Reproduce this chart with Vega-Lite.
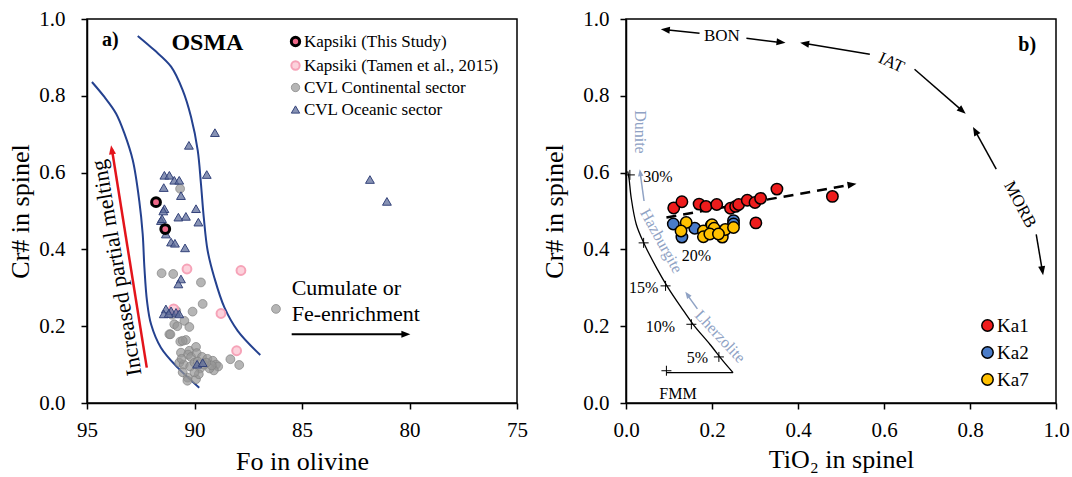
{
  "$schema": "https://vega.github.io/schema/vega-lite/v6.json",
  "background": "white",
  "padding": {"left": 7, "top": 7, "right": 5, "bottom": 0},
  "bounds": "flush",
  "spacing": 109,
  "config": {
    "font": "Liberation Serif",
    "view": {"stroke": "black", "strokeWidth": 1.5},
    "axis": {
      "domainColor": "black", "domainWidth": 1.5,
      "tickColor": "black", "tickWidth": 1.5, "tickSize": 6,
      "grid": false, "labelFlush": false, "labelOverlap": false,
      "labelFont": "Liberation Serif", "labelFontSize": 21, "labelColor": "black",
      "titleFont": "Liberation Serif", "titleFontSize": 26, "titleFontWeight": "normal", "titleColor": "black"
    },
    "legend": {"labelFont": "Liberation Serif", "labelLimit": 400},
    "text": {"font": "Liberation Serif", "color": "black"}
  },
  "resolve": {
    "scale": {"x": "independent", "y": "independent", "fill": "independent", "stroke": "independent", "shape": "independent", "strokeWidth": "independent"},
    "legend": {"fill": "independent", "stroke": "independent", "shape": "independent", "strokeWidth": "independent"}
  },
  "datasets": {
    "envelope": [
      {"curve": "left", "fo": 94.77, "cr": 0.836}, {"curve": "left", "fo": 94.19, "cr": 0.797}, {"curve": "left", "fo": 93.65, "cr": 0.754},
      {"curve": "left", "fo": 93.26, "cr": 0.702}, {"curve": "left", "fo": 92.87, "cr": 0.632}, {"curve": "left", "fo": 92.57, "cr": 0.527},
      {"curve": "left", "fo": 92.41, "cr": 0.440}, {"curve": "left", "fo": 92.33, "cr": 0.353}, {"curve": "left", "fo": 92.21, "cr": 0.266},
      {"curve": "left", "fo": 92.02, "cr": 0.205}, {"curve": "left", "fo": 91.56, "cr": 0.144}, {"curve": "left", "fo": 90.78, "cr": 0.092},
      {"curve": "left", "fo": 89.78, "cr": 0.040},
      {"curve": "right", "fo": 92.64, "cr": 0.956}, {"curve": "right", "fo": 91.87, "cr": 0.919}, {"curve": "right", "fo": 91.09, "cr": 0.876},
      {"curve": "right", "fo": 90.55, "cr": 0.815}, {"curve": "right", "fo": 90.16, "cr": 0.745}, {"curve": "right", "fo": 89.85, "cr": 0.658},
      {"curve": "right", "fo": 89.70, "cr": 0.571}, {"curve": "right", "fo": 89.57, "cr": 0.484}, {"curve": "right", "fo": 89.39, "cr": 0.397},
      {"curve": "right", "fo": 89.08, "cr": 0.327}, {"curve": "right", "fo": 88.61, "cr": 0.249}, {"curve": "right", "fo": 87.99, "cr": 0.188},
      {"curve": "right", "fo": 86.94, "cr": 0.125}
    ],
    "olivine": [
      {"series": "CVL Continental sector", "fo": 90.67, "cr": 0.558}, {"series": "CVL Continental sector", "fo": 91.53, "cr": 0.338},
      {"series": "CVL Continental sector", "fo": 90.99, "cr": 0.336}, {"series": "CVL Continental sector", "fo": 89.70, "cr": 0.314},
      {"series": "CVL Continental sector", "fo": 89.62, "cr": 0.258}, {"series": "CVL Continental sector", "fo": 86.21, "cr": 0.245},
      {"series": "CVL Continental sector", "fo": 90.09, "cr": 0.238}, {"series": "CVL Continental sector", "fo": 90.47, "cr": 0.214},
      {"series": "CVL Continental sector", "fo": 90.94, "cr": 0.205}, {"series": "CVL Continental sector", "fo": 90.80, "cr": 0.200},
      {"series": "CVL Continental sector", "fo": 90.24, "cr": 0.198}, {"series": "CVL Continental sector", "fo": 91.17, "cr": 0.179},
      {"series": "CVL Continental sector", "fo": 90.66, "cr": 0.160}, {"series": "CVL Continental sector", "fo": 90.40, "cr": 0.164},
      {"series": "CVL Continental sector", "fo": 90.63, "cr": 0.131}, {"series": "CVL Continental sector", "fo": 90.24, "cr": 0.136},
      {"series": "CVL Continental sector", "fo": 89.93, "cr": 0.146}, {"series": "CVL Continental sector", "fo": 90.30, "cr": 0.126},
      {"series": "CVL Continental sector", "fo": 90.16, "cr": 0.120}, {"series": "CVL Continental sector", "fo": 89.90, "cr": 0.130},
      {"series": "CVL Continental sector", "fo": 89.65, "cr": 0.120}, {"series": "CVL Continental sector", "fo": 89.40, "cr": 0.115},
      {"series": "CVL Continental sector", "fo": 89.15, "cr": 0.110}, {"series": "CVL Continental sector", "fo": 89.00, "cr": 0.100},
      {"series": "CVL Continental sector", "fo": 88.90, "cr": 0.095}, {"series": "CVL Continental sector", "fo": 89.10, "cr": 0.085},
      {"series": "CVL Continental sector", "fo": 89.30, "cr": 0.090}, {"series": "CVL Continental sector", "fo": 90.71, "cr": 0.105},
      {"series": "CVL Continental sector", "fo": 90.50, "cr": 0.100}, {"series": "CVL Continental sector", "fo": 90.20, "cr": 0.095},
      {"series": "CVL Continental sector", "fo": 89.74, "cr": 0.090}, {"series": "CVL Continental sector", "fo": 90.32, "cr": 0.066},
      {"series": "CVL Continental sector", "fo": 90.33, "cr": 0.058}, {"series": "CVL Continental sector", "fo": 89.93, "cr": 0.062},
      {"series": "CVL Continental sector", "fo": 88.33, "cr": 0.114}, {"series": "CVL Continental sector", "fo": 87.92, "cr": 0.099},
      {"series": "CVL Continental sector", "fo": 89.80, "cr": 0.075}, {"series": "CVL Continental sector", "fo": 90.00, "cr": 0.080},
      {"series": "CVL Continental sector", "fo": 90.55, "cr": 0.080}, {"series": "CVL Continental sector", "fo": 89.55, "cr": 0.100},
      {"series": "CVL Continental sector", "fo": 90.85, "cr": 0.240}, {"series": "CVL Continental sector", "fo": 91.05, "cr": 0.230},
      {"series": "CVL Continental sector", "fo": 90.00, "cr": 0.105}, {"series": "CVL Continental sector", "fo": 89.85, "cr": 0.108},
      {"series": "CVL Continental sector", "fo": 90.60, "cr": 0.115}, {"series": "CVL Continental sector", "fo": 89.20, "cr": 0.098},
      {"series": "CVL Continental sector", "fo": 89.45, "cr": 0.105}, {"series": "CVL Continental sector", "fo": 91.12, "cr": 0.179},
      {"series": "CVL Continental sector", "fo": 90.55, "cr": 0.162},
      {"series": "Kapsiki (Tamen et al., 2015)", "fo": 90.35, "cr": 0.349}, {"series": "Kapsiki (Tamen et al., 2015)", "fo": 87.84, "cr": 0.345},
      {"series": "Kapsiki (Tamen et al., 2015)", "fo": 88.77, "cr": 0.233}, {"series": "Kapsiki (Tamen et al., 2015)", "fo": 88.04, "cr": 0.136},
      {"series": "Kapsiki (Tamen et al., 2015)", "fo": 90.97, "cr": 0.245},
      {"series": "CVL Oceanic sector", "fo": 89.05, "cr": 0.704}, {"series": "CVL Oceanic sector", "fo": 90.26, "cr": 0.671},
      {"series": "CVL Oceanic sector", "fo": 89.43, "cr": 0.595}, {"series": "CVL Oceanic sector", "fo": 81.84, "cr": 0.582},
      {"series": "CVL Oceanic sector", "fo": 81.05, "cr": 0.525}, {"series": "CVL Oceanic sector", "fo": 91.40, "cr": 0.593},
      {"series": "CVL Oceanic sector", "fo": 91.17, "cr": 0.593}, {"series": "CVL Oceanic sector", "fo": 90.94, "cr": 0.580},
      {"series": "CVL Oceanic sector", "fo": 90.71, "cr": 0.580}, {"series": "CVL Oceanic sector", "fo": 91.43, "cr": 0.561},
      {"series": "CVL Oceanic sector", "fo": 90.63, "cr": 0.540}, {"series": "CVL Oceanic sector", "fo": 91.40, "cr": 0.506},
      {"series": "CVL Oceanic sector", "fo": 89.93, "cr": 0.506}, {"series": "CVL Oceanic sector", "fo": 90.75, "cr": 0.484},
      {"series": "CVL Oceanic sector", "fo": 90.40, "cr": 0.486}, {"series": "CVL Oceanic sector", "fo": 91.56, "cr": 0.475},
      {"series": "CVL Oceanic sector", "fo": 89.82, "cr": 0.471}, {"series": "CVL Oceanic sector", "fo": 91.33, "cr": 0.440},
      {"series": "CVL Oceanic sector", "fo": 91.09, "cr": 0.419}, {"series": "CVL Oceanic sector", "fo": 90.91, "cr": 0.416},
      {"series": "CVL Oceanic sector", "fo": 90.44, "cr": 0.404}, {"series": "CVL Oceanic sector", "fo": 90.63, "cr": 0.323},
      {"series": "CVL Oceanic sector", "fo": 90.75, "cr": 0.310}, {"series": "CVL Oceanic sector", "fo": 91.33, "cr": 0.245},
      {"series": "CVL Oceanic sector", "fo": 91.09, "cr": 0.240}, {"series": "CVL Oceanic sector", "fo": 90.86, "cr": 0.236},
      {"series": "CVL Oceanic sector", "fo": 91.43, "cr": 0.232}, {"series": "CVL Oceanic sector", "fo": 90.71, "cr": 0.232},
      {"series": "CVL Oceanic sector", "fo": 91.20, "cr": 0.233}, {"series": "CVL Oceanic sector", "fo": 89.88, "cr": 0.101},
      {"series": "CVL Oceanic sector", "fo": 89.62, "cr": 0.105}, {"series": "CVL Oceanic sector", "fo": 91.51, "cr": 0.480},
      {"series": "CVL Oceanic sector", "fo": 91.45, "cr": 0.500},
      {"series": "Kapsiki (This Study)", "fo": 91.79, "cr": 0.523}, {"series": "Kapsiki (This Study)", "fo": 91.36, "cr": 0.453}
    ],
    "spinel": [
      {"sample": "Ka1", "ti": 0.111, "cr": 0.508}, {"sample": "Ka1", "ti": 0.130, "cr": 0.524}, {"sample": "Ka1", "ti": 0.170, "cr": 0.518},
      {"sample": "Ka1", "ti": 0.186, "cr": 0.512}, {"sample": "Ka1", "ti": 0.211, "cr": 0.517}, {"sample": "Ka1", "ti": 0.243, "cr": 0.507},
      {"sample": "Ka1", "ti": 0.255, "cr": 0.512}, {"sample": "Ka1", "ti": 0.262, "cr": 0.517}, {"sample": "Ka1", "ti": 0.282, "cr": 0.528},
      {"sample": "Ka1", "ti": 0.300, "cr": 0.522}, {"sample": "Ka1", "ti": 0.313, "cr": 0.533}, {"sample": "Ka1", "ti": 0.351, "cr": 0.557},
      {"sample": "Ka1", "ti": 0.480, "cr": 0.538}, {"sample": "Ka1", "ti": 0.302, "cr": 0.469},
      {"sample": "Ka2", "ti": 0.110, "cr": 0.466}, {"sample": "Ka2", "ti": 0.130, "cr": 0.432}, {"sample": "Ka2", "ti": 0.160, "cr": 0.455},
      {"sample": "Ka2", "ti": 0.250, "cr": 0.475}, {"sample": "Ka2", "ti": 0.198, "cr": 0.462}, {"sample": "Ka2", "ti": 0.250, "cr": 0.466},
      {"sample": "Ka7", "ti": 0.140, "cr": 0.470}, {"sample": "Ka7", "ti": 0.128, "cr": 0.448}, {"sample": "Ka7", "ti": 0.180, "cr": 0.448},
      {"sample": "Ka7", "ti": 0.180, "cr": 0.433}, {"sample": "Ka7", "ti": 0.200, "cr": 0.464}, {"sample": "Ka7", "ti": 0.210, "cr": 0.445},
      {"sample": "Ka7", "ti": 0.224, "cr": 0.432}, {"sample": "Ka7", "ti": 0.231, "cr": 0.452}, {"sample": "Ka7", "ti": 0.250, "cr": 0.457},
      {"sample": "Ka7", "ti": 0.205, "cr": 0.455}, {"sample": "Ka7", "ti": 0.195, "cr": 0.440}, {"sample": "Ka7", "ti": 0.215, "cr": 0.440}
    ],
    "melting": [
      {"ti": 0.004, "cr": 0.603}, {"ti": 0.007, "cr": 0.585}, {"ti": 0.012, "cr": 0.535}, {"ti": 0.024, "cr": 0.465},
      {"ti": 0.043, "cr": 0.413}, {"ti": 0.071, "cr": 0.352}, {"ti": 0.098, "cr": 0.300}, {"ti": 0.129, "cr": 0.248},
      {"ti": 0.156, "cr": 0.205}, {"ti": 0.195, "cr": 0.153}, {"ti": 0.226, "cr": 0.109}, {"ti": 0.249, "cr": 0.079}
    ],
    "meltTicks": [
      {"ti": 0.009, "cr": 0.594}, {"ti": 0.041, "cr": 0.417}, {"ti": 0.092, "cr": 0.305},
      {"ti": 0.152, "cr": 0.205}, {"ti": 0.216, "cr": 0.120}, {"ti": 0.094, "cr": 0.084}
    ],
    "meltLabels": [
      {"label": "30%", "ti": 0.074, "cr": 0.589}, {"label": "20%", "ti": 0.164, "cr": 0.383},
      {"label": "15%", "ti": 0.041, "cr": 0.300}, {"label": "10%", "ti": 0.080, "cr": 0.199},
      {"label": "5%", "ti": 0.166, "cr": 0.116}, {"label": "FMM", "ti": 0.121, "cr": 0.023}
    ],
    "tectonicArrows": [
      {"ti": 0.171, "cr": 0.963, "ti2": 0.093, "cr2": 0.972},
      {"ti": 0.280, "cr": 0.950, "ti2": 0.359, "cr2": 0.939},
      {"ti": 0.567, "cr": 0.908, "ti2": 0.4165, "cr2": 0.936},
      {"ti": 0.671, "cr": 0.869, "ti2": 0.781, "cr2": 0.762},
      {"ti": 0.861, "cr": 0.609, "ti2": 0.8126, "cr2": 0.7076},
      {"ti": 0.954, "cr": 0.439, "ti2": 0.968, "cr2": 0.346}
    ],
    "blackHeads": [
      {"ti": 0.081, "cr": 0.973, "heading": 185.9}, {"ti": 0.371, "cr": 0.938, "heading": 6.4},
      {"ti": 0.405, "cr": 0.938, "heading": 189.5}, {"ti": 0.790, "cr": 0.753, "heading": 41},
      {"ti": 0.807, "cr": 0.719, "heading": 241.2}, {"ti": 0.970, "cr": 0.333, "heading": 80.7},
      {"ti": 0.536, "cr": 0.571, "heading": -10.1}
    ],
    "residueArrows": [
      {"ti": 0.042, "cr": 0.526, "ti2": 0.033, "cr2": 0.599},
      {"ti": 0.166, "cr": 0.245, "ti2": 0.143, "cr2": 0.281}
    ],
    "residueHeads": [
      {"ti": 0.032, "cr": 0.609, "heading": -97.7}, {"ti": 0.138, "cr": 0.290, "heading": 235}
    ]
  },
  "hconcat": [
    {
      "width": 430,
      "height": 384,
      "layer": [
        {
          "data": {"name": "envelope"},
          "mark": {"type": "line", "color": "#24418f", "strokeWidth": 2, "interpolate": "catmull-rom"},
          "encoding": {
            "x": {"field": "fo", "type": "quantitative",
                  "scale": {"domain": [75, 95], "reverse": true, "nice": false, "zero": false},
                  "axis": {"values": [75, 80, 85, 90, 95], "title": "Fo in olivine", "labelFont": "Liberation Serif", "titleFont": "Liberation Serif", "labelPadding": 10, "titlePadding": 8}},
            "y": {"field": "cr", "type": "quantitative",
                  "scale": {"domain": [0, 1], "nice": false},
                  "axis": {"values": [0, 0.2, 0.4, 0.6, 0.8, 1], "format": ".1f", "title": "Cr# in spinel", "labelFont": "Liberation Serif", "titleFont": "Liberation Serif", "labelPadding": 16, "titlePadding": 5}},
            "detail": {"field": "curve"}
          }
        },
        {
          "data": {"values": [{"fo": 92.22, "cr": 0.092, "fo2": 93.84, "cr2": 0.66}]},
          "mark": {"type": "rule", "color": "#e3141b", "strokeWidth": 2.5},
          "encoding": {
            "x": {"field": "fo", "type": "quantitative"}, "y": {"field": "cr", "type": "quantitative"},
            "x2": {"field": "fo2"}, "y2": {"field": "cr2"}
          }
        },
        {
          "data": {"values": [{"fo": 85.48, "cr": 0.179, "fo2": 80.2, "cr2": 0.179}]},
          "mark": {"type": "rule", "color": "black", "strokeWidth": 2},
          "encoding": {
            "x": {"field": "fo", "type": "quantitative"}, "y": {"field": "cr", "type": "quantitative"},
            "x2": {"field": "fo2"}, "y2": {"field": "cr2"}
          }
        },
        {
          "data": {"values": [{"fo": 93.88, "cr": 0.671, "heading": -99.1}]},
          "mark": {"type": "point", "shape": "M0,0L-2,-0.78L-2,0.78Z", "filled": true, "color": "#e3141b", "size": 81, "opacity": 1},
          "encoding": {
            "x": {"field": "fo", "type": "quantitative"}, "y": {"field": "cr", "type": "quantitative"},
            "angle": {"field": "heading", "type": "quantitative", "scale": null}
          }
        },
        {
          "data": {"values": [{"fo": 79.96, "cr": 0.179, "heading": 0}]},
          "mark": {"type": "point", "shape": "M0,0L-2,-0.78L-2,0.78Z", "filled": true, "color": "black", "size": 81, "opacity": 1},
          "encoding": {
            "x": {"field": "fo", "type": "quantitative"}, "y": {"field": "cr", "type": "quantitative"},
            "angle": {"field": "heading", "type": "quantitative", "scale": null}
          }
        },
        {
          "data": {"name": "olivine"},
          "mark": {"type": "point", "filled": true, "size": 78, "opacity": 1},
          "encoding": {
            "x": {"field": "fo", "type": "quantitative"},
            "y": {"field": "cr", "type": "quantitative"},
            "fill": {"field": "series", "type": "nominal",
                     "scale": {"domain": ["Kapsiki (This Study)", "Kapsiki (Tamen et al., 2015)", "CVL Continental sector", "CVL Oceanic sector"],
                               "range": ["#ee6888", "#fcd2dc", "rgba(150,150,150,0.7)", "rgba(95,110,155,0.75)"]},
                     "legend": {"title": null, "orient": "none", "legendX": 200, "legendY": 14, "padding": 0,
                                "labelFont": "Liberation Serif", "labelFontSize": 17, "labelColor": "black", "labelLimit": 400,
                                "rowPadding": 4, "labelOffset": 0, "symbolSize": 70}},
            "stroke": {"field": "series", "type": "nominal",
                       "scale": {"domain": ["Kapsiki (This Study)", "Kapsiki (Tamen et al., 2015)", "CVL Continental sector", "CVL Oceanic sector"],
                                 "range": ["#000000", "#f6a3b8", "rgba(130,130,130,0.7)", "#34437a"]}},
            "shape": {"field": "series", "type": "nominal",
                      "scale": {"domain": ["Kapsiki (This Study)", "Kapsiki (Tamen et al., 2015)", "CVL Continental sector", "CVL Oceanic sector"],
                                "range": ["circle", "circle", "circle", "triangle-up"]}},
            "strokeWidth": {"field": "series", "type": "nominal",
                            "scale": {"type": "ordinal", "domain": ["Kapsiki (This Study)", "Kapsiki (Tamen et al., 2015)", "CVL Continental sector", "CVL Oceanic sector"],
                                      "range": [3, 2, 1, 1]}}
          }
        },
        {
          "data": {"values": [{"label": "a)", "fo": 93.92, "cr": 0.945}]},
          "mark": {"type": "text", "font": "Liberation Serif", "fontSize": 20, "fontWeight": "bold", "align": "center", "baseline": "middle"},
          "encoding": {"x": {"field": "fo", "type": "quantitative"}, "y": {"field": "cr", "type": "quantitative"}, "text": {"field": "label"}}
        },
        {
          "data": {"values": [{"label": "OSMA", "fo": 89.40, "cr": 0.938}]},
          "mark": {"type": "text", "font": "Liberation Serif", "fontSize": 24, "fontWeight": "bold", "align": "center", "baseline": "middle"},
          "encoding": {"x": {"field": "fo", "type": "quantitative"}, "y": {"field": "cr", "type": "quantitative"}, "text": {"field": "label"}}
        },
        {
          "data": {"values": [{"label": "Cumulate or", "fo": 85.48, "cr": 0.282}, {"label": "Fe-enrichment", "fo": 85.48, "cr": 0.214}]},
          "mark": {"type": "text", "font": "Liberation Serif", "fontSize": 22, "align": "left", "baseline": "alphabetic"},
          "encoding": {"x": {"field": "fo", "type": "quantitative"}, "y": {"field": "cr", "type": "quantitative"}, "text": {"field": "label"}}
        },
        {
          "data": {"values": [{"label": "Increased partial melting", "fo": 93.62, "cr": 0.352}]},
          "mark": {"type": "text", "font": "Liberation Serif", "fontSize": 22, "align": "center", "baseline": "middle", "angle": 260.5},
          "encoding": {"x": {"field": "fo", "type": "quantitative"}, "y": {"field": "cr", "type": "quantitative"}, "text": {"field": "label"}}
        }
      ]
    },
    {
      "width": 430,
      "height": 384,
      "layer": [
        {
          "data": {"name": "melting"},
          "mark": {"type": "line", "color": "black", "strokeWidth": 1.3, "interpolate": "catmull-rom"},
          "encoding": {
            "x": {"field": "ti", "type": "quantitative",
                  "scale": {"domain": [0, 1], "nice": false},
                  "axis": {"values": [0, 0.2, 0.4, 0.6, 0.8, 1], "format": ".1f", "title": "TiO₂ in spinel", "labelFont": "Liberation Serif", "titleFont": "Liberation Serif", "labelPadding": 10, "titlePadding": 6}},
            "y": {"field": "cr", "type": "quantitative",
                  "scale": {"domain": [0, 1], "nice": false},
                  "axis": {"values": [0, 0.2, 0.4, 0.6, 0.8, 1], "format": ".1f", "title": "Cr# in spinel", "labelFont": "Liberation Serif", "titleFont": "Liberation Serif", "labelPadding": 11, "titlePadding": 15}}
          }
        },
        {
          "data": {"values": [{"ti": 0.094, "cr": 0.079, "ti2": 0.249, "cr2": 0.079}]},
          "mark": {"type": "rule", "color": "black", "strokeWidth": 1.3},
          "encoding": {
            "x": {"field": "ti", "type": "quantitative"}, "y": {"field": "cr", "type": "quantitative"},
            "x2": {"field": "ti2"}, "y2": {"field": "cr2"}
          }
        },
        {
          "data": {"name": "meltTicks"},
          "mark": {"type": "point", "shape": "M-1,0L1,0M0,-1L0,1", "filled": false, "color": "black", "strokeWidth": 1, "size": 100, "opacity": 1},
          "encoding": {"x": {"field": "ti", "type": "quantitative"}, "y": {"field": "cr", "type": "quantitative"}}
        },
        {
          "data": {"values": [{"ti": 0.094, "cr": 0.483, "ti2": 0.525, "cr2": 0.569}]},
          "mark": {"type": "rule", "color": "black", "strokeWidth": 2.5, "strokeDash": [10, 7]},
          "encoding": {
            "x": {"field": "ti", "type": "quantitative"}, "y": {"field": "cr", "type": "quantitative"},
            "x2": {"field": "ti2"}, "y2": {"field": "cr2"}
          }
        },
        {
          "data": {"name": "tectonicArrows"},
          "mark": {"type": "rule", "color": "black", "strokeWidth": 1.5},
          "encoding": {
            "x": {"field": "ti", "type": "quantitative"}, "y": {"field": "cr", "type": "quantitative"},
            "x2": {"field": "ti2"}, "y2": {"field": "cr2"}
          }
        },
        {
          "data": {"name": "blackHeads"},
          "mark": {"type": "point", "shape": "M0,0L-2,-0.78L-2,0.78Z", "filled": true, "color": "black", "size": 81, "opacity": 1},
          "encoding": {
            "x": {"field": "ti", "type": "quantitative"}, "y": {"field": "cr", "type": "quantitative"},
            "angle": {"field": "heading", "type": "quantitative", "scale": null}
          }
        },
        {
          "data": {"name": "residueArrows"},
          "mark": {"type": "rule", "color": "#8fa2c4", "strokeWidth": 1.5},
          "encoding": {
            "x": {"field": "ti", "type": "quantitative"}, "y": {"field": "cr", "type": "quantitative"},
            "x2": {"field": "ti2"}, "y2": {"field": "cr2"}
          }
        },
        {
          "data": {"name": "residueHeads"},
          "mark": {"type": "point", "shape": "M0,0L-2,-0.78L-2,0.78Z", "filled": true, "color": "#8fa2c4", "size": 49, "opacity": 1},
          "encoding": {
            "x": {"field": "ti", "type": "quantitative"}, "y": {"field": "cr", "type": "quantitative"},
            "angle": {"field": "heading", "type": "quantitative", "scale": null}
          }
        },
        {
          "data": {"name": "spinel"},
          "mark": {"type": "point", "filled": true, "size": 130, "stroke": "black", "strokeWidth": 1.5, "opacity": 1},
          "encoding": {
            "x": {"field": "ti", "type": "quantitative"},
            "y": {"field": "cr", "type": "quantitative"},
            "fill": {"field": "sample", "type": "nominal",
                     "scale": {"domain": ["Ka1", "Ka2", "Ka7"], "range": ["#ee1c1c", "#4a7cc9", "#ffc000"]},
                     "legend": {"title": null, "orient": "none", "legendX": 352, "legendY": 297, "padding": 0,
                                "labelFont": "Liberation Serif", "labelFontSize": 19, "labelColor": "black",
                                "rowPadding": 7, "labelOffset": 0, "symbolSize": 130, "symbolType": "circle",
                                "symbolStrokeColor": "black", "symbolStrokeWidth": 1.5}}
          }
        },
        {
          "data": {"name": "meltLabels"},
          "mark": {"type": "text", "font": "Liberation Serif", "fontSize": 16, "align": "center", "baseline": "middle"},
          "encoding": {"x": {"field": "ti", "type": "quantitative"}, "y": {"field": "cr", "type": "quantitative"}, "text": {"field": "label"}}
        },
        {
          "data": {"values": [{"label": "BON", "ti": 0.223, "cr": 0.956}]},
          "mark": {"type": "text", "font": "Liberation Serif", "fontSize": 17, "align": "center", "baseline": "middle"},
          "encoding": {"x": {"field": "ti", "type": "quantitative"}, "y": {"field": "cr", "type": "quantitative"}, "text": {"field": "label"}}
        },
        {
          "data": {"values": [{"label": "IAT", "ti": 0.617, "cr": 0.886}]},
          "mark": {"type": "text", "font": "Liberation Serif", "fontSize": 17, "align": "center", "baseline": "middle", "angle": 25},
          "encoding": {"x": {"field": "ti", "type": "quantitative"}, "y": {"field": "cr", "type": "quantitative"}, "text": {"field": "label"}}
        },
        {
          "data": {"values": [{"label": "MORB", "ti": 0.916, "cr": 0.517}]},
          "mark": {"type": "text", "font": "Liberation Serif", "fontSize": 17, "align": "center", "baseline": "middle", "angle": 62},
          "encoding": {"x": {"field": "ti", "type": "quantitative"}, "y": {"field": "cr", "type": "quantitative"}, "text": {"field": "label"}}
        },
        {
          "data": {"values": [{"label": "b)", "ti": 0.933, "cr": 0.933}]},
          "mark": {"type": "text", "font": "Liberation Serif", "fontSize": 20, "fontWeight": "bold", "align": "center", "baseline": "middle"},
          "encoding": {"x": {"field": "ti", "type": "quantitative"}, "y": {"field": "cr", "type": "quantitative"}, "text": {"field": "label"}}
        },
        {
          "data": {"values": [{"label": "Dunite", "ti": 0.032, "cr": 0.706}]},
          "mark": {"type": "text", "font": "Liberation Serif", "fontSize": 16, "align": "center", "baseline": "middle", "angle": 90, "color": "#8fa2c4"},
          "encoding": {"x": {"field": "ti", "type": "quantitative"}, "y": {"field": "cr", "type": "quantitative"}, "text": {"field": "label"}}
        },
        {
          "data": {"values": [{"label": "Hazburgite", "ti": 0.082, "cr": 0.422}]},
          "mark": {"type": "text", "font": "Liberation Serif", "fontSize": 16, "align": "center", "baseline": "middle", "angle": 61, "color": "#8fa2c4"},
          "encoding": {"x": {"field": "ti", "type": "quantitative"}, "y": {"field": "cr", "type": "quantitative"}, "text": {"field": "label"}}
        },
        {
          "data": {"values": [{"label": "Lherzolite", "ti": 0.219, "cr": 0.173}]},
          "mark": {"type": "text", "font": "Liberation Serif", "fontSize": 16, "align": "center", "baseline": "middle", "angle": 47, "color": "#8fa2c4"},
          "encoding": {"x": {"field": "ti", "type": "quantitative"}, "y": {"field": "cr", "type": "quantitative"}, "text": {"field": "label"}}
        }
      ]
    }
  ]
}
